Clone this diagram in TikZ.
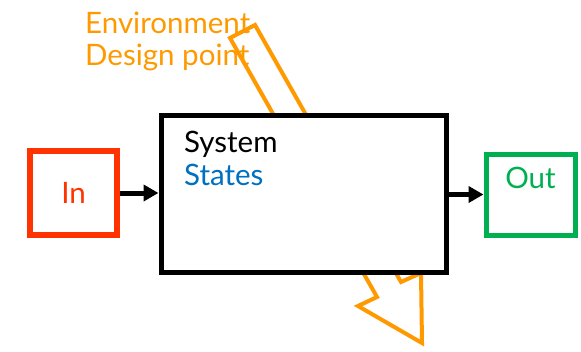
\documentclass[tikz,border=0pt]{standalone}
\usepackage{fontspec}
\setmainfont{Lato}
\usetikzlibrary{arrows.meta}
\definecolor{envorange}{RGB}{255,153,0}
\definecolor{inred}{RGB}{255,51,0}
\definecolor{outgreen}{RGB}{0,176,80}
\definecolor{stateblue}{RGB}{0,112,192}
\begin{document}
\begin{tikzpicture}[x=1pt,y=-1pt,
  txt/.style={font=\fontsize{29.5}{35}\selectfont, inner sep=0pt},
  sysbox/.style={draw, fill=white, line width=5pt, minimum width=285pt, minimum height=157pt},
  inbox/.style={draw=inred, line width=6pt, minimum width=87pt, minimum height=84pt, text=inred, txt},
  outbox/.style={draw=outgreen, line width=5pt, minimum width=89pt, minimum height=81pt},
  flow/.style={line width=5pt, -{Triangle[length=15pt,width=16pt]}}]
\useasboundingbox (0,0) rectangle (581,351);

% environment / design point arrow, passes behind the system
\draw[envorange, line width=4pt, line join=miter]
  (255,25) -- (401,282) -- (421,273) -- (422,343) -- (358,306) -- (377,297) -- (230,38) -- cycle;
\node[txt, text=envorange, anchor=base west] (env) at (85,33) {Environment};
\node[txt, text=envorange, anchor=base west] (dp) at (85,65) {Design point};

\node[sysbox] (sys) at (303.5,193.5) {};
\node[txt, anchor=base west] (system) at (184,152) {System};
\node[txt, text=stateblue, anchor=base west] (states) at (184,185) {States};

\node[inbox] (in) at (73.5,193) {In};
\node[outbox] (out) at (530.5,194.5) {};
\node[txt, text=outgreen] (outlbl) at ([yshift=17pt]out.center) {Out};

\draw[flow] (in.east) -- (sys.west |- in.east);
\draw[flow] (sys.east |- out.west) -- (out.west);
\end{tikzpicture}
\end{document}
